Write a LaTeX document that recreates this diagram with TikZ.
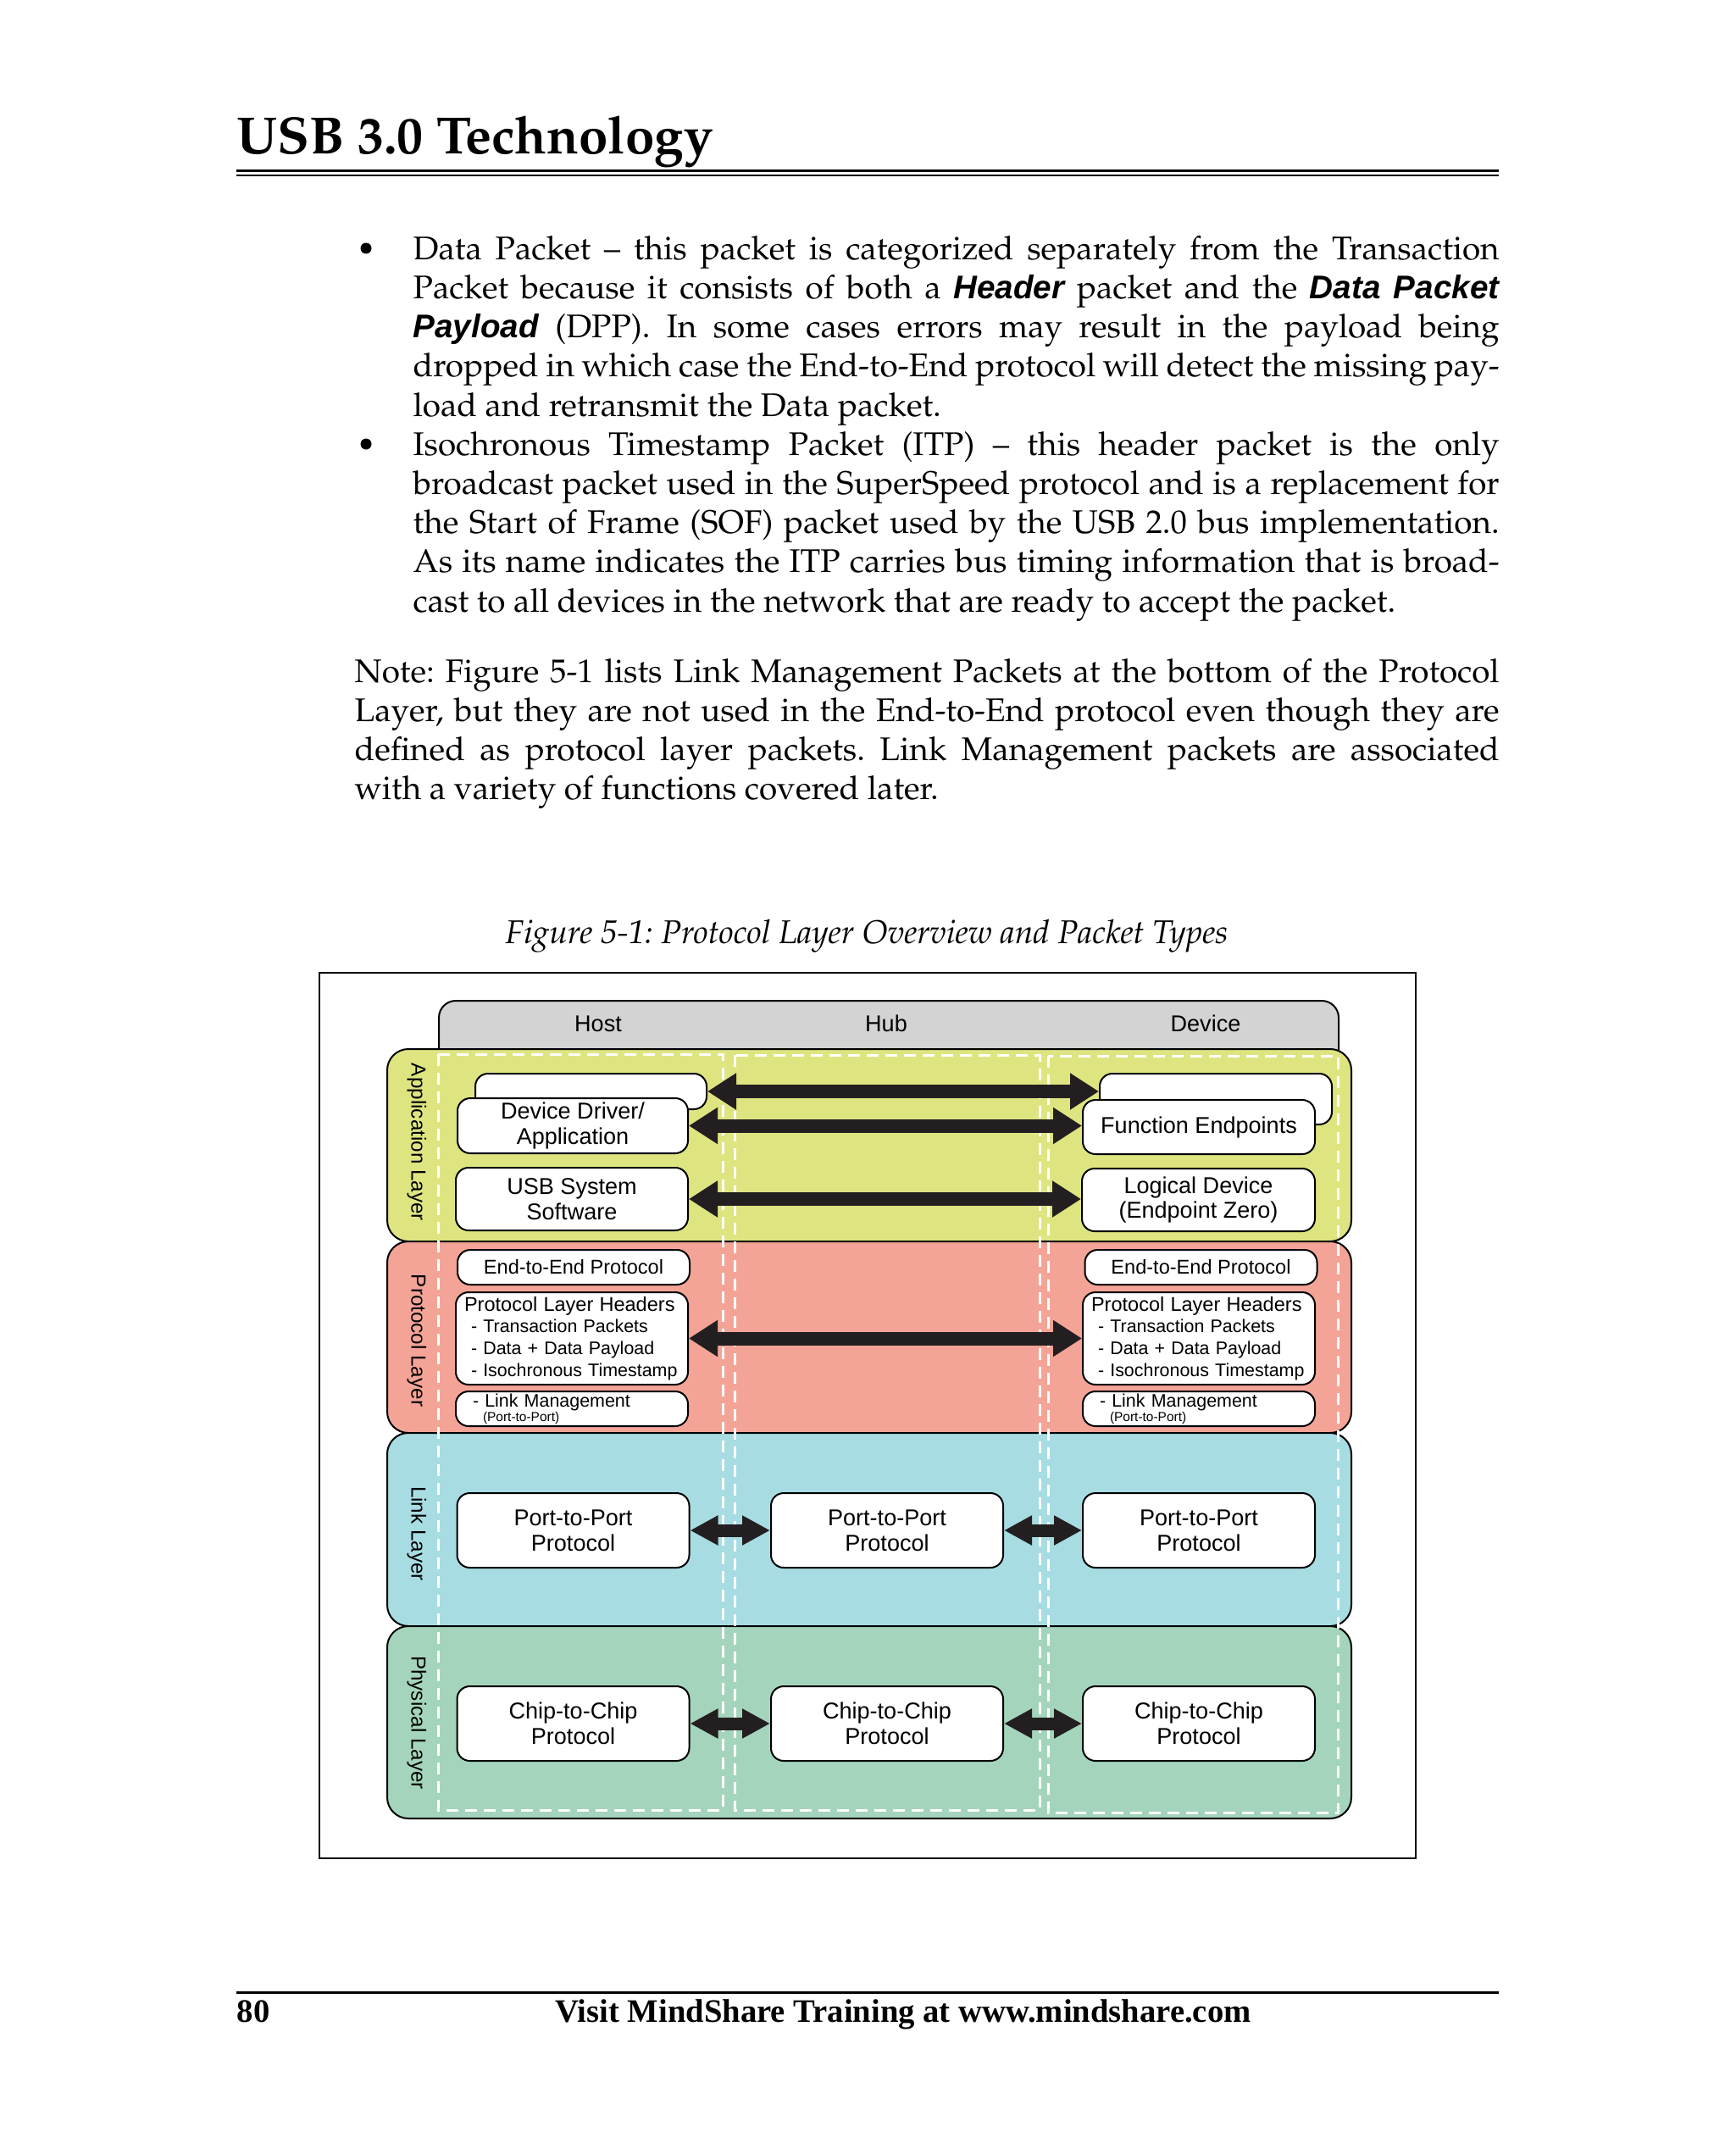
\documentclass[tikz,border=0pt]{standalone}
\usepackage[T1,TU]{fontenc}
\usepackage{fontspec}
\newfontfamily\figsans{Liberation Sans}
\newfontfamily\footserif{Liberation Serif}
\newcommand{\palfont}{\fontencoding{T1}\fontfamily{ppl}\selectfont}
\usetikzlibrary{arrows.meta}
\definecolor{tabgray}{RGB}{211,211,211}
\definecolor{appyellow}{RGB}{222,229,128}
\definecolor{protored}{RGB}{244,164,151}
\definecolor{linkblue}{RGB}{167,220,227}
\definecolor{physgreen}{RGB}{164,213,188}
\definecolor{arrowblack}{RGB}{35,31,32}
\newcommand{\bsi}[1]{{\figsans\bfseries\itshape #1}}
\frenchspacing
\begin{document}
\begin{tikzpicture}[x=1cm, y=-1cm,
  body/.style={anchor=base west, inner sep=0pt, align=justify, font=\palfont\fontsize{11}{13.18}\selectfont},
  pbox/.style={draw=black, line width=0.02cm, fill=white, rounded corners=0.15cm, inner sep=0pt, align=center, font=\figsans\fontsize{7.7}{8.5}\selectfont},
  small/.style={font=\figsans\fontsize{6.1}{7.3}\selectfont},
  layer/.style={draw=black, line width=0.02cm, rounded corners=0.25cm},
  layerlbl/.style={rotate=-90, inner sep=0pt, font=\figsans\fontsize{6.9}{8}\selectfont},
  colbox/.style={draw=white, line width=0.03cm, dash pattern=on 0.14cm off 0.08cm},
  fatarrow/.style={draw=arrowblack, line width=0.16cm, {Triangle[length=0.34cm,width=0.41cm]}-{Triangle[length=0.34cm,width=0.41cm]}},
  shortarrow/.style={draw=arrowblack, line width=0.15cm, {Triangle[length=0.33cm,width=0.33cm]}-{Triangle[length=0.33cm,width=0.33cm]}}]
  \useasboundingbox (0,0) rectangle (20.48,25.29);
  \fill[white] (0,0) rectangle (20.48,25.29);

  \node[anchor=base west, inner sep=0pt, font=\palfont\bfseries\fontsize{17.6}{20}\selectfont] (title) at (2.79,1.82) {USB 3.0 Technology};
  \draw[line width=0.025cm] (2.79,2.017) -- (17.69,2.017);
  \draw[line width=0.022cm] (2.79,2.07) -- (17.69,2.07);

  \fill (4.32,2.93) circle (0.065);
  \fill (4.32,5.24) circle (0.065);
  \node[body, text width=12.82cm] (itemA) at (4.87,3.06) {Data Packet -- this packet is categorized separately from the Transaction\linebreak
    Packet because it consists of both a \bsi{Header} packet and the \bsi{Data Packet}\linebreak
    \bsi{Payload} (DPP). In some cases errors may result in the payload being\linebreak
    dropped in which case the End-to-End protocol will detect the missing pay-\linebreak
    load and retransmit the Data packet.};
  \node[body, text width=12.82cm] (itemB) at (4.87,5.37) {Isochronous Timestamp Packet (ITP) -- this header packet is the only\linebreak
    broadcast packet used in the SuperSpeed protocol and is a replacement for\linebreak
    the Start of Frame (SOF) packet used by the USB 2.0 bus implementation.\linebreak
    As its name indicates the ITP carries bus timing information that is broad-\linebreak
    cast to all devices in the network that are ready to accept the packet.};
  \node[body, text width=13.51cm] (note) at (4.18,8.05) {Note: Figure 5-1 lists Link Management Packets at the bottom of the Protocol\linebreak
    Layer, but they are not used in the End-to-End protocol even though they are\linebreak
    defined as protocol layer packets. Link Management packets are associated\linebreak
    with a variety of functions covered later.};

  \node[anchor=base, inner sep=0pt, font=\palfont\itshape\fontsize{11.05}{13}\selectfont] (caption) at (10.23,11.13) {Figure 5-1: Protocol Layer Overview and Packet Types};
  \draw[line width=0.02cm] (3.77,11.48) rectangle (16.71,21.93);

  \draw[fill=tabgray, line width=0.02cm, rounded corners=0.2cm] (5.18,12.6) -- (5.18,11.81) -- (15.80,11.81) -- (15.80,12.6);
  \foreach \nm/\xc/\txt in {host/7.06/Host, hub/10.46/Hub, dev/14.23/Device}
    \node[font=\figsans\fontsize{7.7}{8.5}\selectfont] (\nm) at (\xc,12.08) {\txt};

  \foreach \ytop/\ybot/\col in {12.38/14.65/appyellow, 14.65/16.91/protored, 16.91/19.19/linkblue, 19.19/21.46/physgreen}
    \draw[layer, fill=\col] (4.57,\ytop) rectangle (15.95,\ybot);
  \foreach \nm/\yc/\txt in {app/13.48/Application Layer, prot/15.82/Protocol Layer, link/18.10/Link Layer, phys/20.33/Physical Layer}
    \node[layerlbl] (\nm) at (4.92,\yc) {\txt};

  \draw[colbox] (5.17,12.44) rectangle (8.53,21.36);
  \draw[colbox] (8.67,12.45) rectangle (12.27,21.36);
  \draw[colbox] (12.37,12.46) rectangle (15.79,21.39);

  \node[pbox, minimum width=2.73cm, minimum height=0.42cm] (hback) at (6.975,12.88) {};
  \node[pbox, minimum width=2.74cm, minimum height=0.60cm] (dback) at (14.35,12.97) {};
  \node[pbox, minimum width=2.72cm, minimum height=0.65cm] (hdrv) at (6.76,13.285) {Device Driver/\\Application};
  \node[pbox, minimum width=2.74cm, minimum height=0.64cm] (dfun) at (14.15,13.30) {Function Endpoints};
  \node[pbox, minimum width=2.74cm, minimum height=0.74cm] (hsys) at (6.75,14.15) {USB System\\Software};
  \node[pbox, minimum width=2.75cm, minimum height=0.74cm] (dlog) at (14.145,14.16) {Logical Device\\(Endpoint Zero)};

  \foreach \nm/\xc in {h/6.77, d/14.175}
    \node[pbox, minimum width=2.74cm, minimum height=0.41cm, font=\figsans\fontsize{6.7}{7.4}\selectfont] (\nm e2e) at (\xc,14.955) {End-to-End Protocol};
  \foreach \nm/\xc in {h/6.75, d/14.15} {
    \node[pbox, small, minimum width=2.74cm, minimum height=1.09cm, text width=2.54cm, inner xsep=0.1cm, align=left] (\nm hdr) at (\xc,15.795)
      {{\fontsize{6.7}{7.3}\selectfont Protocol Layer Headers}\\
       \hspace*{0.08cm}- Transaction Packets\\
       \hspace*{0.08cm}- Data + Data Payload\\
       \hspace*{0.08cm}- Isochronous Timestamp};
    \node[pbox, small, minimum width=2.74cm, minimum height=0.41cm, text width=2.54cm, inner xsep=0.1cm, align=left] (\nm lmp) at (\xc,16.625)
      {\hspace*{0.1cm}- Link Management\\[-0.085cm]
       \hspace*{0.22cm}{\fontsize{4.4}{5}\selectfont (Port-to-Port)}};
  }

  \foreach \nm/\xc in {h/6.765, b/10.47, d/14.15} {
    \node[pbox, minimum width=2.74cm, minimum height=0.88cm] (\nm p2p) at (\xc,18.06) {Port-to-Port\\Protocol};
    \node[pbox, minimum width=2.74cm, minimum height=0.88cm] (\nm c2c) at (\xc,20.34) {Chip-to-Chip\\Protocol};
  }

  \draw[fatarrow] (hback.east) -- (hback.east -| dback.west);
  \foreach \src/\dst in {hdrv/dfun, hsys/dlog, hhdr/dhdr}
    \draw[fatarrow] (\src.east) -- (\src.east -| \dst.west);
  \foreach \src/\dst in {hp2p/bp2p, bp2p/dp2p, hc2c/bc2c, bc2c/dc2c}
    \draw[shortarrow] (\src.east) -- (\dst.west);

  \draw[line width=0.03cm] (2.79,23.51) -- (17.69,23.51);
  \node[anchor=base west, inner sep=0pt, font=\footserif\bfseries\fontsize{11}{13}\selectfont] (pageno) at (2.79,23.86) {80};
  \node[anchor=base, inner sep=0pt, font=\footserif\bfseries\fontsize{11}{13}\selectfont] (footer) at (10.66,23.86) {Visit MindShare Training at www.mindshare.com};
\end{tikzpicture}
\end{document}
